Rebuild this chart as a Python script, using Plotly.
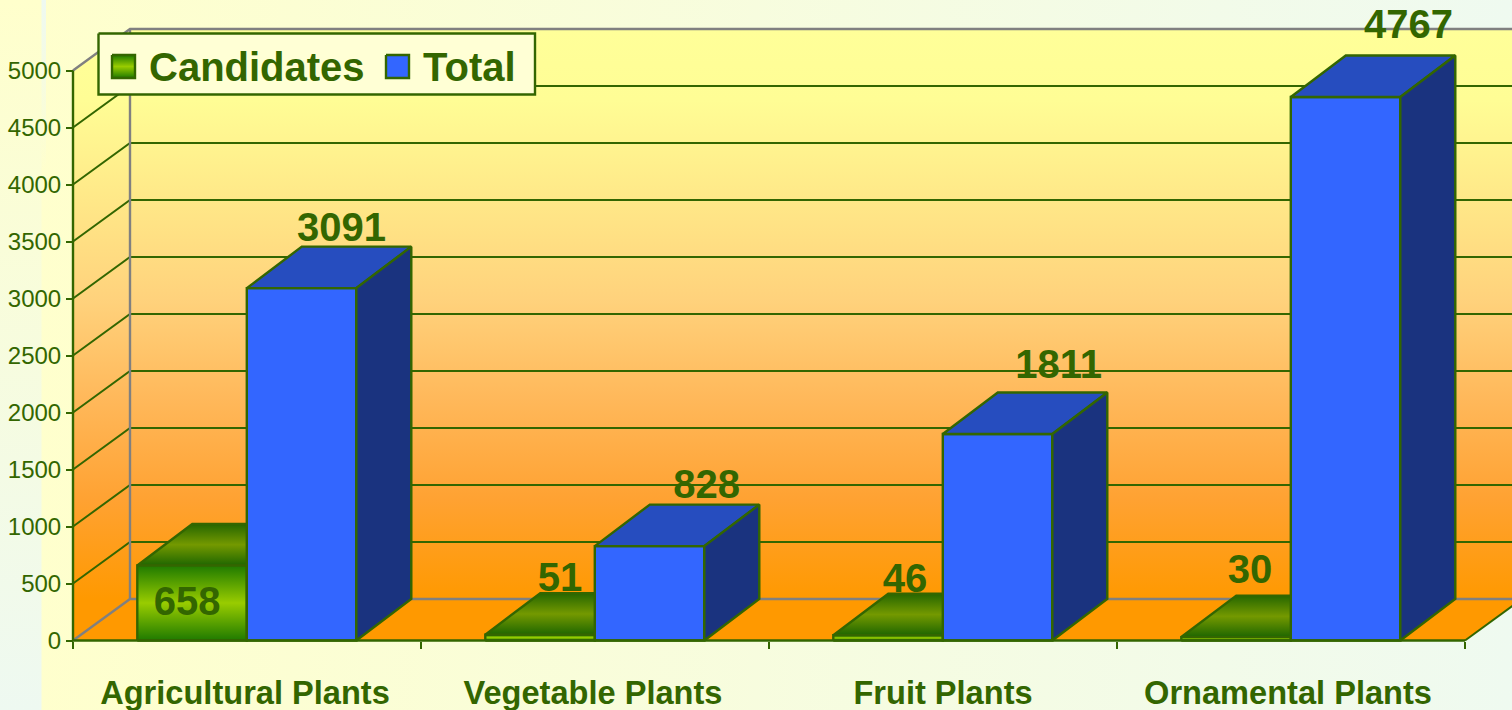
import base64
import plotly.graph_objects as go

# ---------- data ----------
categories = ["Agricultural Plants", "Vegetable Plants", "Fruit Plants", "Ornamental Plants"]
candidates = [658, 51, 46, 30]
total = [3091, 828, 1811, 4767]
series_names = ["Candidates", "Total"]
y_ticks = [0, 500, 1000, 1500, 2000, 2500, 3000, 3500, 4000, 4500, 5000]

# data-label nudges, in screen pixels from the front-top centre of each bar
cand_label_dx = [-5, 20, 17, 14]
cand_label_dy = [-40, 54, 53, 64]
total_label_dx = [40, 57, 61, 63]
total_label_dy = [57, 58, 66, 69]
cat_label_dx = [-2, -2, 0, -3]

# ---------- geometry / style ----------
W, H = 1512, 710
L, R, T, B = 73, 1465, 70.5, 640.5
X_PER = (R - L) / 4
Y_PER = (B - T) / 5000
DEPTH_X = 57 / X_PER
BAR_DX = 55 / X_PER
DEPTH_Y = 41.5 / Y_PER
BAR_W = 109.5 / X_PER
CAND_OFF = 64.3 / X_PER
GREEN = "#336600"
GREY = "#808080"
FONT = "Liberation Sans, Arial, sans-serif"
X_RANGE = [-L / X_PER, (W - L) / X_PER]
Y_RANGE = [-(H - B) / Y_PER, B / Y_PER]


def px(x, y):
    return (x - L) / X_PER, (B - y) / Y_PER


def poly(xs, ys, fill=None, grad=None, line=GREEN, lw=2.4, ax=1):
    kw = dict(fillgradient=grad) if grad else dict(fillcolor=fill)
    return go.Scatter(
        x=list(xs) + [xs[0]], y=list(ys) + [ys[0]], mode="lines", fill="toself",
        line=dict(color=line, width=lw), hoverinfo="skip", showlegend=False,
        xaxis="x" if ax == 1 else "x2", yaxis="y" if ax == 1 else "y2", **kw
    )


def path(xs, ys, color, lw=2):
    return go.Scatter(x=xs, y=ys, mode="lines", line=dict(color=color, width=lw),
                      hoverinfo="skip", showlegend=False)


svg = f"""<svg xmlns='http://www.w3.org/2000/svg' width='{W}' height='{H}' preserveAspectRatio='none' viewBox='0 0 {W} {H}'>
<defs>
<linearGradient id='h' x1='0' x2='1' y1='0' y2='0'><stop offset='0' stop-color='#FFFFCC'/><stop offset='1' stop-color='#EFFAF0'/></linearGradient>
<linearGradient id='v' x1='0' x2='0' y1='0' y2='1'><stop offset='0' stop-color='#FFFFCC'/><stop offset='1' stop-color='#EEF9F1'/></linearGradient>
<linearGradient id='s' x1='0' x2='0' y1='0' y2='1'><stop offset='0' stop-color='#EEF9F1'/><stop offset='1' stop-color='#EEF9F1' stop-opacity='0'/></linearGradient>
</defs>
<rect x='0' y='0' width='{W}' height='{H}' fill='url(#h)'/>
<rect x='0' y='0' width='41.5' height='{H}' fill='url(#v)'/>
<rect x='41.5' y='0' width='4.5' height='170' fill='url(#s)'/>
</svg>"""
bg = "data:image/svg+xml;base64," + base64.b64encode(svg.encode()).decode()

WALL = dict(type="vertical",
            colorscale=[[0, "#FF9900"], [0.175, "#FFA232"], [0.35, "#FFB85A"], [0.525, "#FFD27C"],
                        [0.7, "#FFE888"], [0.875, "#FFFD95"], [1, "#FFFF99"]],
            start=DEPTH_Y, stop=5000 + DEPTH_Y)
CAND_FRONT = dict(type="vertical", colorscale=[[0, "#1F7A00"], [0.5, "#99CC00"], [1, "#1F7A00"]])
CAND_TOP = dict(type="vertical", colorscale=[[0, "#1F6600"], [0.5, "#749900"], [1, "#266600"]])

traces = []
# walls and floor
traces.append(poly([0, DEPTH_X, DEPTH_X, 0], [5000, 5000 + DEPTH_Y, DEPTH_Y, 0], grad=WALL, line="rgba(0,0,0,0)", lw=0))
far = 4 + DEPTH_X
traces.append(poly([DEPTH_X, far, far, DEPTH_X], [5000 + DEPTH_Y, 5000 + DEPTH_Y, DEPTH_Y, DEPTH_Y], grad=WALL, line="rgba(0,0,0,0)", lw=0))
traces.append(poly([0, DEPTH_X, far, 4], [0, DEPTH_Y, DEPTH_Y, 0], fill="#FF9900", line="rgba(0,0,0,0)", lw=0))

# gridlines along left and back walls
for v in y_ticks[1:-1]:
    traces.append(path([0, DEPTH_X, far], [v, v + DEPTH_Y, v + DEPTH_Y], GREEN))
traces.append(path([0, DEPTH_X, far], [0, DEPTH_Y, DEPTH_Y], GREY, 2.4))
traces.append(path([0, DEPTH_X, far], [5000, 5000 + DEPTH_Y, 5000 + DEPTH_Y], GREY, 2.4))
traces.append(path([DEPTH_X, DEPTH_X], [DEPTH_Y, 5000 + DEPTH_Y], GREY, 2.4))
traces.append(path([4, far], [0, DEPTH_Y], GREEN))

# candidates: top face, then gradient front
for i, v in enumerate(candidates):
    x0 = i + CAND_OFF
    x1 = x0 + BAR_W
    traces.append(poly([x0, x0 + BAR_DX, x1 + BAR_DX, x1], [v, v + DEPTH_Y, v + DEPTH_Y, v], grad=CAND_TOP))
    traces.append(poly([x0, x1, x1, x0], [0, 0, v, v], grad=CAND_FRONT))

# total: real bars on an overlay axis so they sit in front of the candidates
tx = [i + CAND_OFF + BAR_W for i in range(4)]
traces.append(go.Bar(
    x=[x + BAR_W / 2 for x in tx], y=total, width=BAR_W, name=series_names[1],
    marker=dict(color="#3366FF", line=dict(color=GREEN, width=2.4)),
    xaxis="x2", yaxis="y2", hoverinfo="skip", showlegend=False,
))
for x0, v in zip(tx, total):
    x1 = x0 + BAR_W
    traces.append(poly([x0, x0 + BAR_DX, x1 + BAR_DX, x1], [v, v + DEPTH_Y, v + DEPTH_Y, v], fill="#264DBF", ax=2))
    traces.append(poly([x1, x1 + BAR_DX, x1 + BAR_DX, x1], [0, DEPTH_Y, v + DEPTH_Y, v], fill="#1A337F", ax=2))

# axis lines, front edge
traces.append(go.Scatter(x=[0, 0, 4], y=[5000, 0, 0], mode="lines", line=dict(color=GREEN, width=2.4),
                         hoverinfo="skip", showlegend=False, xaxis="x2", yaxis="y2"))

# data labels
lab_x, lab_y, lab_t = [], [], []
for i in range(4):
    cx = i + CAND_OFF + BAR_W / 2
    lab_x.append(cx + cand_label_dx[i] / X_PER)
    lab_y.append(candidates[i] + cand_label_dy[i] / Y_PER)
    lab_t.append(str(candidates[i]))
    cx = tx[i] + BAR_W / 2
    lab_x.append(cx + total_label_dx[i] / X_PER)
    lab_y.append(total[i] + total_label_dy[i] / Y_PER)
    lab_t.append(str(total[i]))
traces.append(go.Scatter(
    x=lab_x, y=lab_y, text=lab_t, mode="text", textposition="middle center",
    textfont=dict(family=FONT, size=40, color=GREEN, weight="bold"),
    xaxis="x2", yaxis="y2", hoverinfo="skip", showlegend=False,
))

# legend
bx0, by0 = px(98.5, 33.5)
bx1, by1 = px(535, 94.5)
traces.append(poly([bx0, bx1, bx1, bx0], [by0, by0, by1, by1], fill="#FFFFD5", ax=2))
sx0, sy0 = px(112, 55)
sx1, sy1 = px(135, 78)
traces.append(poly([sx0, sx1, sx1, sx0], [sy0, sy0, sy1, sy1], grad=CAND_FRONT, ax=2))
sx0, sy0 = px(386, 55)
sx1, sy1 = px(409, 78)
traces.append(poly([sx0, sx1, sx1, sx0], [sy0, sy0, sy1, sy1], fill="#3366FF", ax=2))

annotations = []
for name, pxx in zip(series_names, [146.5, 421]):
    ax_, ay_ = px(pxx, 66.5)
    annotations.append(dict(
        x=ax_, y=ay_, xref="x2", yref="y2", text=name, showarrow=False, xanchor="left", yanchor="middle",
        font=dict(family=FONT, size=40, color=GREEN, weight="bold"),
    ))

fig = go.Figure(traces)
axis_common = dict(showgrid=False, zeroline=False, showline=False)
fig.update_layout(
    width=W, height=H, margin=dict(l=0, r=0, t=0, b=0, autoexpand=False), autosize=False,
    paper_bgcolor="#FFFFCC", plot_bgcolor="rgba(0,0,0,0)", showlegend=False, barmode="overlay",
    font=dict(family=FONT, color=GREEN),
    xaxis=dict(domain=[0, 1], range=X_RANGE, tickmode="array", tickvals=[0, 1, 2, 3, 4],
               ticktext=[""] * 5, ticks="outside", ticklen=7, tickwidth=2, tickcolor=GREEN,
               anchor="free", position=(H - B) / H, **axis_common),
    yaxis=dict(domain=[0, 1], range=Y_RANGE, tickmode="array", tickvals=y_ticks,
               ticktext=[str(t) for t in y_ticks], ticks="outside", ticklen=7, tickwidth=2, tickcolor=GREEN,
               anchor="free", position=L / W,
               tickfont=dict(family=FONT, size=24, color=GREEN), **axis_common),
    xaxis2=dict(overlaying="x", range=X_RANGE, tickmode="array",
                tickvals=[i + 0.5 + cat_label_dx[i] / X_PER for i in range(4)],
                ticktext=categories, ticks="", side="bottom", anchor="free", position=(H - B) / H,
                ticklabelstandoff=30,
                tickfont=dict(family=FONT, size=32.6, color=GREEN, weight="bold"), **axis_common),
    yaxis2=dict(overlaying="y", range=Y_RANGE, visible=False, anchor="free", position=L / W, **axis_common),
    images=[dict(source=bg, xref="paper", yref="paper", x=0, y=1, sizex=1, sizey=1,
                 sizing="stretch", xanchor="left", yanchor="top", layer="below")],
    annotations=annotations,
)
fig.write_html("out.html", config=dict(displayModeBar=False),
               post_script="document.body.style.margin='0';document.documentElement.style.overflow='hidden';")
